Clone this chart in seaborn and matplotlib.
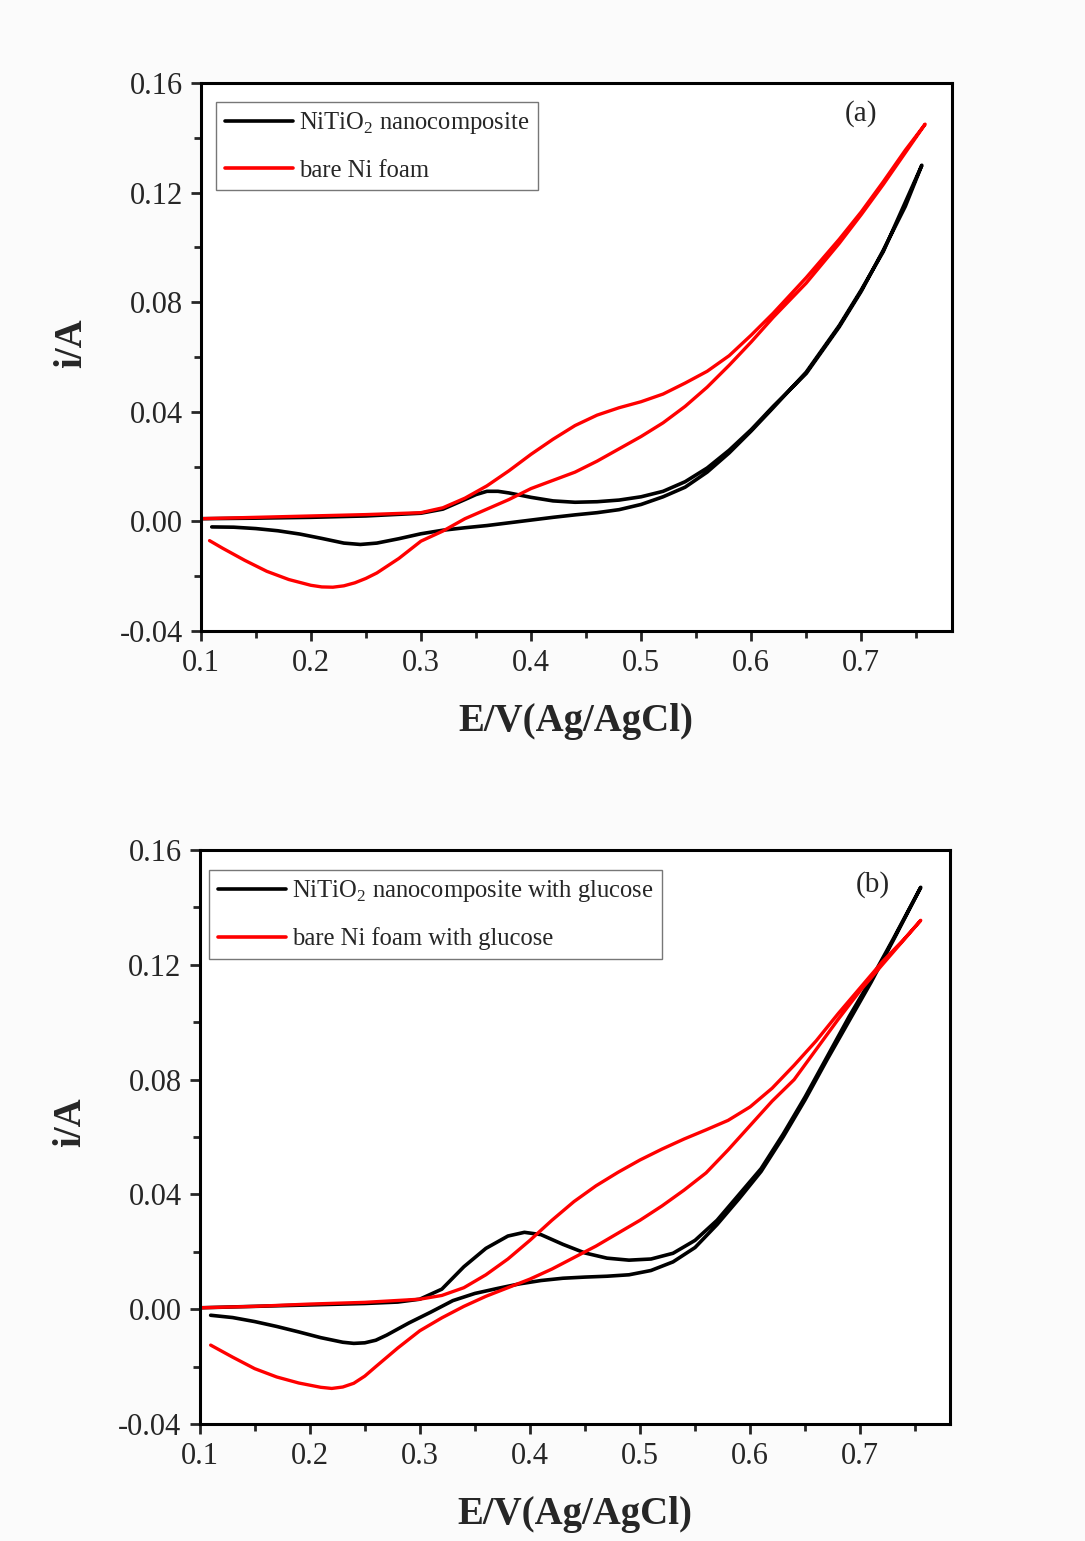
import numpy as np
import pandas as pd
import matplotlib
matplotlib.use("Agg")
import matplotlib.pyplot as plt
import seaborn as sns
from matplotlib.ticker import MultipleLocator

sns.set_style("ticks")
plt.rcParams["font.family"] = ["Liberation Serif", "DejaVu Serif"]
plt.rcParams["mathtext.fontset"] = "custom"
plt.rcParams["mathtext.rm"] = "Liberation Serif"

# ---- panel (a): CV without glucose ----
a_black_fwd_E = [0.10, 0.15, 0.20, 0.25, 0.30, 0.32, 0.34, 0.35, 0.36, 0.37, 0.38, 0.40, 0.42, 0.44,
                 0.46, 0.48, 0.50, 0.52, 0.54, 0.56, 0.58, 0.60, 0.62, 0.65, 0.68, 0.70, 0.72,
                 0.74, 0.755]
a_black_fwd_i = [0.0010, 0.0012, 0.0015, 0.0020, 0.0030, 0.0045, 0.0080, 0.0098, 0.0110, 0.0110,
                 0.0104, 0.0088, 0.0075, 0.0070, 0.0072, 0.0078, 0.0090, 0.0110, 0.0145, 0.0195,
                 0.0260, 0.0335, 0.0420, 0.0540, 0.0710, 0.0840, 0.0990, 0.1150, 0.1300]
a_black_rev_E = [0.755, 0.72, 0.70, 0.68, 0.65, 0.62, 0.60, 0.58, 0.56, 0.54, 0.52, 0.50, 0.48,
                 0.46, 0.44, 0.42, 0.40, 0.38, 0.36, 0.34, 0.32, 0.30, 0.28, 0.26, 0.245, 0.23,
                 0.21, 0.19, 0.17, 0.15, 0.13, 0.11]
a_black_rev_i = [0.1300, 0.0985, 0.0845, 0.0715, 0.0545, 0.0415, 0.0330, 0.0250, 0.0180, 0.0125,
                 0.0090, 0.0062, 0.0043, 0.0032, 0.0024, 0.0015, 0.0005, -0.0005, -0.0015, -0.0023,
                 -0.0032, -0.0045, -0.0063, -0.0079, -0.0084, -0.0079, -0.0062, -0.0046, -0.0034,
                 -0.0026, -0.0021, -0.0020]
a_red_fwd_E = [0.10, 0.15, 0.20, 0.25, 0.30, 0.32, 0.34, 0.36, 0.38, 0.40, 0.42, 0.44, 0.46,
               0.48, 0.50, 0.52, 0.54, 0.56, 0.58, 0.60, 0.62, 0.65, 0.68, 0.70, 0.72, 0.74, 0.758]
a_red_fwd_i = [0.0010, 0.0015, 0.0020, 0.0025, 0.0032, 0.0050, 0.0085, 0.0130, 0.0185, 0.0245,
               0.0300, 0.0350, 0.0388, 0.0415, 0.0437, 0.0465, 0.0505, 0.0548, 0.0605, 0.0680,
               0.0760, 0.0890, 0.1030, 0.1130, 0.1240, 0.1355, 0.1450]
a_red_rev_E = [0.758, 0.72, 0.70, 0.68, 0.65, 0.62, 0.60, 0.58, 0.56, 0.54, 0.52, 0.50, 0.48,
               0.46, 0.44, 0.42, 0.40, 0.38, 0.36, 0.34, 0.32, 0.30, 0.28, 0.26, 0.25, 0.24,
               0.23, 0.22, 0.21, 0.20, 0.18, 0.16, 0.14, 0.12, 0.108]
a_red_rev_i = [0.1450, 0.1230, 0.1120, 0.1015, 0.0870, 0.0745, 0.0655, 0.0570, 0.0490, 0.0420,
               0.0360, 0.0310, 0.0265, 0.0220, 0.0180, 0.0150, 0.0120, 0.0080, 0.0045, 0.0010,
               -0.0035, -0.0072, -0.0135, -0.0188, -0.0208, -0.0224, -0.0235, -0.0240, -0.0239,
               -0.0233, -0.0212, -0.0182, -0.0142, -0.0098, -0.0070]

# ---- panel (b): CV with glucose ----
b_black_fwd_E = [0.10, 0.15, 0.20, 0.25, 0.28, 0.30, 0.32, 0.34, 0.36, 0.38, 0.395, 0.41, 0.43,
                 0.45, 0.47, 0.49, 0.51, 0.53, 0.55, 0.57, 0.59, 0.61, 0.63, 0.65, 0.67, 0.69,
                 0.71, 0.73, 0.755]
b_black_fwd_i = [0.0005, 0.0010, 0.0015, 0.0020, 0.0025, 0.0035, 0.0070, 0.0148, 0.0212, 0.0255,
                 0.0268, 0.0260, 0.0226, 0.0196, 0.0178, 0.0171, 0.0175, 0.0195, 0.0240, 0.0310,
                 0.0400, 0.0490, 0.0610, 0.0740, 0.0880, 0.1020, 0.1150, 0.1290, 0.1470]
b_black_rev_E = [0.755, 0.73, 0.71, 0.69, 0.67, 0.65, 0.63, 0.61, 0.59, 0.57, 0.55, 0.53, 0.51,
                 0.49, 0.47, 0.45, 0.43, 0.41, 0.39, 0.37, 0.35, 0.33, 0.31, 0.29, 0.27, 0.26,
                 0.25, 0.24, 0.23, 0.21, 0.19, 0.17, 0.15, 0.13, 0.11]
b_black_rev_i = [0.1470, 0.1285, 0.1140, 0.1005, 0.0870, 0.0730, 0.0600, 0.0480, 0.0385, 0.0295,
                 0.0215, 0.0165, 0.0135, 0.0120, 0.0115, 0.0112, 0.0108, 0.0100, 0.0088, 0.0072,
                 0.0055, 0.0030, -0.0010, -0.0048, -0.0090, -0.0108, -0.0117, -0.0119, -0.0115,
                 -0.0099, -0.0079, -0.0060, -0.0043, -0.0029, -0.0021]
b_red_fwd_E = [0.10, 0.15, 0.20, 0.25, 0.30, 0.32, 0.34, 0.36, 0.38, 0.40, 0.42, 0.44, 0.46,
               0.48, 0.50, 0.52, 0.54, 0.56, 0.58, 0.60, 0.62, 0.64, 0.66, 0.68, 0.70, 0.72,
               0.74, 0.755]
b_red_fwd_i = [0.0005, 0.0010, 0.0018, 0.0024, 0.0035, 0.0048, 0.0075, 0.0120, 0.0175, 0.0240,
               0.0310, 0.0375, 0.0430, 0.0477, 0.0520, 0.0558, 0.0593, 0.0625, 0.0658, 0.0705,
               0.0770, 0.0850, 0.0935, 0.1030, 0.1120, 0.1210, 0.1290, 0.1355]
b_red_rev_E = [0.755, 0.72, 0.70, 0.68, 0.66, 0.64, 0.62, 0.60, 0.58, 0.56, 0.54, 0.52, 0.50,
               0.48, 0.46, 0.44, 0.42, 0.40, 0.38, 0.36, 0.34, 0.32, 0.30, 0.28, 0.26, 0.25,
               0.24, 0.23, 0.22, 0.21, 0.19, 0.17, 0.15, 0.13, 0.11]
b_red_rev_i = [0.1355, 0.1200, 0.1110, 0.1010, 0.0905, 0.0800, 0.0725, 0.0640, 0.0555, 0.0475,
               0.0415, 0.0360, 0.0310, 0.0265, 0.0220, 0.0180, 0.0140, 0.0105, 0.0075, 0.0045,
               0.0010, -0.0030, -0.0075, -0.0135, -0.0200, -0.0233, -0.0258, -0.0271, -0.0276,
               -0.0272, -0.0257, -0.0236, -0.0207, -0.0167, -0.0125]

labels_a = ["NiTiO$_2$ nanocomposite", "bare Ni foam"]
labels_b = ["NiTiO$_2$ nanocomposite with glucose", "bare Ni foam with glucose"]
x_ticks = [0.1, 0.2, 0.3, 0.4, 0.5, 0.6, 0.7]
y_ticks = [-0.04, 0.00, 0.04, 0.08, 0.12, 0.16]


def cv_frame(fE, fi, rE, ri):
    return pd.DataFrame({"E": list(fE) + list(rE), "i": list(fi) + list(ri)})


fig = plt.figure(figsize=(10.85, 15.41), dpi=100)
fig.patch.set_facecolor("#fbfbfb")
ax_a = fig.add_axes([0.185, 0.5905, 0.692, 0.3556])
ax_b = fig.add_axes([0.184, 0.0759, 0.692, 0.3725])

panels = [
    (ax_a, labels_a, "(a)", (0.880, 0.945), (0.021, 0.966),
     cv_frame(a_black_fwd_E, a_black_fwd_i, a_black_rev_E, a_black_rev_i),
     cv_frame(a_red_fwd_E, a_red_fwd_i, a_red_rev_E, a_red_rev_i)),
    (ax_b, labels_b, "(b)", (0.896, 0.939), (0.013, 0.966),
     cv_frame(b_black_fwd_E, b_black_fwd_i, b_black_rev_E, b_black_rev_i),
     cv_frame(b_red_fwd_E, b_red_fwd_i, b_red_rev_E, b_red_rev_i)),
]

for ax, labels, tag, tag_pos, leg_pos, black_df, red_df in panels:
    ax.set_facecolor("white")
    sns.lineplot(data=black_df, x="E", y="i", sort=False, estimator=None, color="black",
                 lw=2.6, label=labels[0], ax=ax, solid_joinstyle="round")
    sns.lineplot(data=red_df, x="E", y="i", sort=False, estimator=None, color="#ff0000",
                 lw=2.4, label=labels[1], ax=ax, solid_joinstyle="round")
    ax.set_xlim(0.1, 0.782)
    ax.set_ylim(-0.04, 0.16)
    ax.set_xticks(x_ticks)
    ax.set_xticklabels([f"{v:.1f}" for v in x_ticks])
    ax.set_yticks(y_ticks)
    ax.set_yticklabels([f"{v:.2f}" for v in y_ticks])
    ax.xaxis.set_minor_locator(MultipleLocator(0.05))
    ax.yaxis.set_minor_locator(MultipleLocator(0.02))
    ax.tick_params(axis="both", which="major", direction="out", length=7, width=2,
                   labelsize=22, pad=6, top=False, right=False)
    ax.tick_params(axis="both", which="minor", direction="out", length=5, width=2,
                   top=False, right=False)
    for sp in ax.spines.values():
        sp.set_visible(True)
        sp.set_linewidth(2.2)
        sp.set_color("black")
    ax.set_xlabel("E/V(Ag/AgCl)", fontsize=28, fontweight="bold", labelpad=18)
    ax.set_ylabel("i/A", fontsize=28, fontweight="bold")
    ax.yaxis.set_label_coords(-0.147, 0.526)
    ax.text(tag_pos[0], tag_pos[1], tag, transform=ax.transAxes, fontsize=21,
            ha="center", va="center")
    leg = ax.legend(loc="upper left", bbox_to_anchor=leg_pos, fontsize=17.7,
                    frameon=True, fancybox=False, handlelength=2.75, handletextpad=0.25,
                    borderpad=0.35, labelspacing=0.95, borderaxespad=0.0)
    leg.get_frame().set_edgecolor("#555555")
    leg.get_frame().set_linewidth(1.0)
    for h in leg.get_lines():
        h.set_linewidth(2.6)

fig.savefig("out.png", dpi=100, facecolor=fig.get_facecolor())
